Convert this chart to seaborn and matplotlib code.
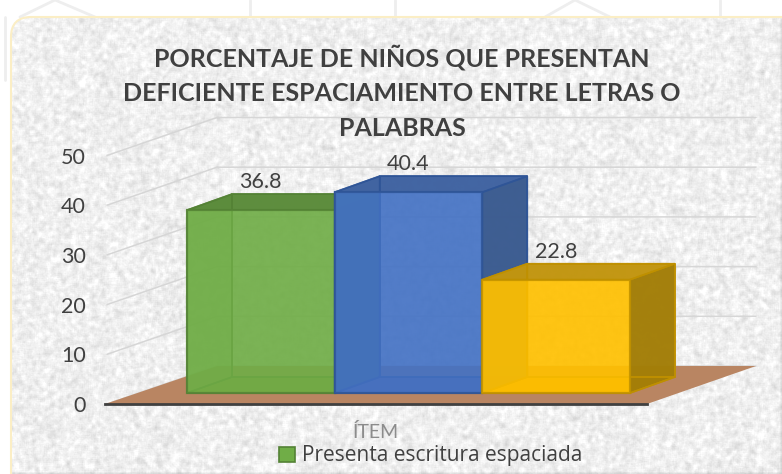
import numpy as np
import pandas as pd
import seaborn as sns
from matplotlib import pyplot as plt
from matplotlib.patches import FancyBboxPatch, Polygon, Patch

W, H = 782, 474

series_names = ['Presenta escritura espaciada', 'Serie 2', 'Serie 3']
values = [36.8, 40.4, 22.8]
y_ticks = [0, 10, 20, 30, 40, 50]
x_label = 'ÍTEM'
title = ('PORCENTAJE DE NIÑOS QUE PRESENTAN\n'
         'DEFICIENTE ESPACIAMIENTO ENTRE LETRAS O\n'
         'PALABRAS')

front_cols = ['#70ad47', '#4472c4', '#ffc000']
edge_cols = ['#548235', '#2f5597', '#bf9000']
top_cols = ['#5a8a3a', '#3f62a0', '#c09410']
left_cols = ['#70ad47', '#3a6aa8', '#dba90c']
right_cols = ['#4f7a32', '#3a5a8e', '#a07c08']
bottom_cols = ['#7a9f3c', '#4a68ac', '#f5b400']

# layout, in pixels of the picture
px_per_unit = 4.97
bar_left, bar_w = 187, 147.67
bar_base = 393
depth_x, depth_y = 45, 16
axis_left, axis_right, axis_base = 105, 647, 404
wall_left, wall_right, wall_base = 217, 756, 366

sns.set_style('white')
plt.rcParams['font.family'] = ['Lato', 'DejaVu Sans']

fig = plt.figure(figsize=(W / 100, H / 100), dpi=100)
fig.patch.set_facecolor('white')

# background card
bg = fig.add_axes([0, 0, 1, 1])
bg.set_xlim(0, W)
bg.set_ylim(H, 0)
bg.axis('off')


def blur(a, k):
    kernel = np.ones(k) / k
    for axis in (0, 1):
        a = np.apply_along_axis(lambda r: np.convolve(r, kernel, mode='same'), axis, a)
    return a


yy, xx = np.mgrid[0:H, 0:W]
grain = (np.sin(xx * 12.9898 + yy * 78.233) * 43758.5453) % 1
texture = 239 + (blur(grain, 5) - 0.5) * 100 + (blur(grain, 2) - 0.5) * 15
card = FancyBboxPatch((11, 17), W + 20, H + 20, boxstyle='round,pad=0,rounding_size=20',
                      facecolor='none', edgecolor='#fbeec5', linewidth=1.5, zorder=2)
bg.add_patch(card)
img = bg.imshow(texture, cmap='gray', vmin=0, vmax=255, extent=(0, W, H, 0), aspect='auto', zorder=1)
img.set_clip_path(card)
bg.set_xlim(0, W)
bg.set_ylim(H, 0)

# faint watermark behind the card
for xs, ys in [([20, 55, 95], [17, 0, 17]), ([250, 250], [0, 17]), ([395, 395], [0, 17]), ([545, 575, 610], [17, 0, 17]),
               ([720, 720], [0, 17]), ([5, 5], [17, 80])]:
    bg.plot(xs, ys, color='#eeeeee', lw=2, zorder=0.5)

# back wall, side wall and floor
for t in y_ticks:
    bg.plot([axis_left + 2, wall_left, wall_right],
            [axis_base - t * px_per_unit, wall_base - t * px_per_unit, wall_base - t * px_per_unit],
            color='#d6d6d6', lw=1.1, zorder=3)
bg.add_patch(Polygon([(axis_left, axis_base), (axis_right, axis_base), (wall_right, wall_base), (wall_left, wall_base)],
                     facecolor='#b98562', edgecolor='none', zorder=4))

# the bars
ax = fig.add_axes([0, 0, 1, 1])
ax.patch.set_alpha(0)
df = pd.DataFrame({'serie': series_names, 'valor': values})
sns.barplot(data=df, x='serie', y='valor', hue='serie', palette=front_cols, dodge=False,
            width=1, saturation=1, alpha=0.82, legend=False, ax=ax)
ax.set_xlim((0 - bar_left) / bar_w - 0.5, (W - bar_left) / bar_w - 0.5)
ax.set_ylim((bar_base - H) / px_per_unit, bar_base / px_per_unit)
ax.axis('off')

dx = depth_x / bar_w
dy = depth_y / px_per_unit
for i, bar in enumerate(ax.patches):
    x0, x1 = bar.get_x(), bar.get_x() + bar.get_width()
    v = bar.get_height()
    z = 5 + i
    faces = [
        ([(x0 + dx, dy), (x1 + dx, dy), (x1 + dx, v + dy), (x0 + dx, v + dy)], front_cols[i], 0.55),
        ([(x0, 0), (x1, 0), (x1 + dx, dy), (x0 + dx, dy)], bottom_cols[i], 0.9),
        ([(x0, 0), (x0 + dx, dy), (x0 + dx, v + dy), (x0, v)], left_cols[i], 0.75),
        ([(x1, 0), (x1 + dx, dy), (x1 + dx, v + dy), (x1, v)], right_cols[i], 0.95),
        ([(x0, v), (x1, v), (x1 + dx, v + dy), (x0 + dx, v + dy)], top_cols[i], 0.95),
    ]
    for pts, col, al in faces:
        ax.add_patch(Polygon(pts, facecolor=col, alpha=al, edgecolor='none', zorder=z))
        ax.add_patch(Polygon(pts, facecolor='none', edgecolor=edge_cols[i], lw=1.2, alpha=0.9, zorder=z + 0.1))
    bar.set_edgecolor(edge_cols[i])
    bar.set_linewidth(1.6)
    bar.set_zorder(z + 0.5)
    ax.text(i, v + 28 / px_per_unit, f'{v}', ha='center', va='center', fontsize=15.5, color='#404040', zorder=20)

# value axis in front of the floor
front = fig.add_axes([axis_left / W, 1 - axis_base / H, (axis_right - axis_left) / W, 50 * px_per_unit / H])
front.patch.set_alpha(0)
front.set_xlim(0, 1)
front.set_ylim(0, 50)
front.set_yticks(y_ticks)
front.set_xticks([])
front.tick_params(axis='y', length=0, pad=14, labelsize=15.5, labelcolor='#404040')
for side in ['top', 'left', 'right']:
    front.spines[side].set_visible(False)
front.spines['bottom'].set_color('#404040')
front.spines['bottom'].set_linewidth(2)
front.set_xlabel(x_label, fontsize=14, color='#8c8c8c', labelpad=14)

fig.text(402 / W, 1 - 92 / H, title, ha='center', va='center', fontsize=18, fontweight='bold',
         color='#404040', linespacing=1.62, zorder=30)

leg = fig.legend(handles=[Patch(facecolor=front_cols[0], edgecolor=edge_cols[0], linewidth=1.2)],
                 labels=[series_names[0]], loc='center', bbox_to_anchor=(431 / W, 1 - 456 / H), frameon=False,
                 handlelength=0.75, handleheight=0.75, handletextpad=0.35, borderpad=0,
                 prop={'family': 'Open Sans', 'size': 15})
leg.get_texts()[0].set_color('#404040')

fig.savefig('out.png', dpi=100)
